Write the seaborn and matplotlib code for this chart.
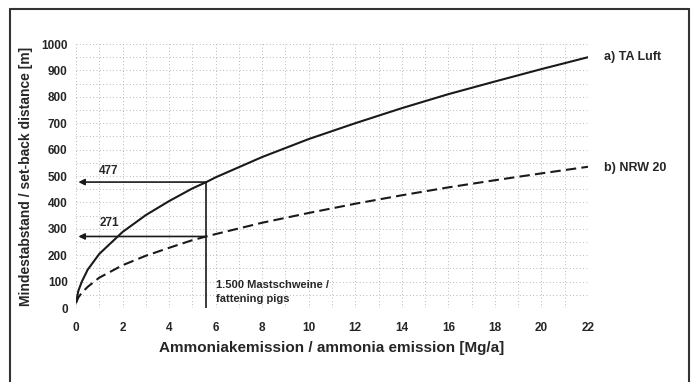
import pandas as pd
import numpy as np
import matplotlib
matplotlib.use("Agg")
import matplotlib.pyplot as plt
import seaborn as sns
from matplotlib.lines import Line2D
from matplotlib.ticker import MultipleLocator

# values
emission = [0, 0.1, 0.25, 0.5, 1, 2, 3, 4, 5, 5.6, 6, 8, 10, 12, 14, 16, 18, 20, 22]
ta_luft = [20, 65, 100, 145, 205, 288, 352, 405, 453, 477, 495, 572, 640, 700, 757, 810, 858, 905, 950]
nrw_20 = [20, 40, 58, 80, 115, 162, 198, 228, 257, 271, 280, 323, 360, 395, 427, 457, 484, 510, 535]
x_ticks = [0, 2, 4, 6, 8, 10, 12, 14, 16, 18, 20, 22]
y_ticks = [0, 100, 200, 300, 400, 500, 600, 700, 800, 900, 1000]
pigs_emission = 5.6
pigs_distance = [477, 271]

df = pd.DataFrame({"x": emission * 2,
                   "y": ta_luft + nrw_20,
                   "series": ["a) TA Luft"] * len(emission) + ["b) NRW 20"] * len(emission)})

sns.set_style("white")
plt.rcParams['font.family'] = ['Liberation Sans', 'DejaVu Sans']

fig = plt.figure(figsize=(6.93, 3.82), dpi=100)
ax = fig.add_axes([0.1097, 0.1937, 0.7388, 0.6911])

sns.lineplot(data=df, x="x", y="y", style="series", color="#1a1a1a",
             dashes={"a) TA Luft": "", "b) NRW 20": (5, 2.5)},
             linewidth=1.5, legend=False, ax=ax)

ax.set_xlim(0, 22)
ax.set_ylim(0, 1000)
ax.set_xticks(x_ticks)
ax.set_yticks(y_ticks)
ax.xaxis.set_minor_locator(MultipleLocator(1))
ax.yaxis.set_minor_locator(MultipleLocator(50))
ax.grid(which="both", color="#a0a0a0", linestyle=(0, (1, 3)), linewidth=0.6)
for s in ax.spines.values():
    s.set_visible(False)
ax.tick_params(which="both", length=0, labelsize=8.5, pad=6)
ax.tick_params(axis="x", pad=10)
for lab in ax.get_xticklabels() + ax.get_yticklabels():
    lab.set_fontweight("bold")

ax.set_xlabel("Ammoniakemission / ammonia emission [Mg/a]", fontsize=11, fontweight="bold", labelpad=5)
ax.set_ylabel("Mindestabstand / set-back distance [m]", fontsize=10, fontweight="bold", labelpad=6)

# arrows for 1500 fattening pigs
for d in pigs_distance:
    ax.annotate("", xy=(0.1, d), xytext=(pigs_emission, d),
                arrowprops=dict(arrowstyle="-|>", color="#1a1a1a", lw=1.2,
                                mutation_scale=9, shrinkA=0, shrinkB=0))
ax.plot([pigs_emission, pigs_emission], [0, pigs_distance[0]], color="#1a1a1a", lw=1.2)
ax.text(1.0, pigs_distance[0] + 18, str(pigs_distance[0]), fontsize=8.5, fontweight="bold", va="bottom")
ax.text(1.0, pigs_distance[1] + 28, str(pigs_distance[1]), fontsize=8.5, fontweight="bold", va="bottom")
ax.text(6.0, 105, "1.500 Mastschweine /\nfattening pigs", fontsize=8, fontweight="bold",
        va="top", linespacing=1.5)

# series labels at right
ax.text(22.7, ta_luft[-1], "a) TA Luft", fontsize=9, fontweight="bold", va="center")
ax.text(22.7, nrw_20[-1] - 5, "b) NRW 20", fontsize=9, fontweight="bold", va="center")

# outer frame (open at bottom)
frame = dict(color="#333333", lw=1.5, transform=fig.transFigure)
fig.add_artist(Line2D([0.0145, 0.0145], [0.0, 0.977], **frame))
fig.add_artist(Line2D([0.0145, 0.994], [0.977, 0.977], **frame))
fig.add_artist(Line2D([0.994, 0.994], [0.0, 0.977], **frame))

fig.savefig("out.png", dpi=100)
